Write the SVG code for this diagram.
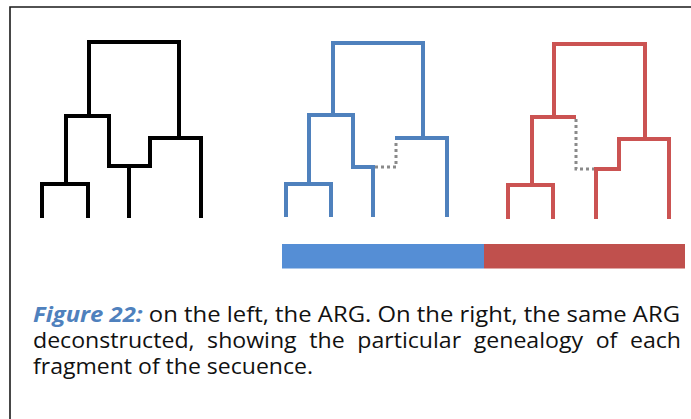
<svg xmlns="http://www.w3.org/2000/svg" width="691" height="419" viewBox="0 0 691 419">
<style>
.t{fill:none;stroke-width:4;stroke-linejoin:miter;stroke-linecap:butt}
.k{stroke:#000}
.b{stroke:#4F81BD}
.r{stroke:#CB5352}
.d{fill:none;stroke:#8A8A8A;stroke-width:3;stroke-dasharray:3 3}
.cap{font-family:"Open Sans","Lato",sans-serif;font-size:21px;fill:#111}
.fig{fill:#4F81BD;font-weight:bold;font-style:italic}
</style>
<rect width="691" height="419" fill="#fff"/>
<path d="M10,419 V7 H691" fill="none" stroke="#1a1a1a" stroke-width="1.6"/>
<g id="connectors">
<g id="arg-black">
<path class="t k" d="M89,116 V42 H179 V138"/>
<path class="t k" d="M66,184 V116 H109 V166 H150 V138 H201 V218"/>
<path class="t k" d="M42,218 V184 H88 V218"/>
<path class="t k" d="M129,166 V218"/>
</g>
<g id="tree-blue">
<path class="t b" d="M333,115 V43 H423 V138"/>
<path class="t b" d="M309,184 V115 H353 V167 H373 V217"/>
<path class="t b" d="M286,217 V184 H331 V217"/>
<path class="t b" d="M395,138 H447 V217"/>
<path class="d" d="M375,167 H396 V140"/>
</g>
<g id="tree-red">
<path class="t r" d="M554,117 V44 H645 V139"/>
<path class="t r" d="M532,185 V117 H576"/>
<path class="t r" d="M508,219 V185 H553 V219"/>
<path class="d" d="M576,119 V169 H596"/>
<path class="t r" d="M596,219 V169 H619 V139 H669 V219"/>
</g>
</g>
<g id="sequence-bar">
<rect x="282" y="244" width="202" height="24.5" fill="#558ED5"/>
<rect x="484" y="244" width="201" height="24.5" fill="#C0504D"/>
</g>
<g id="caption">
<text class="cap" x="33" y="322" textLength="647" lengthAdjust="spacingAndGlyphs"><tspan class="fig">Figure 22:</tspan> on the left, the ARG. On the right, the same ARG</text>
<text class="cap" x="33" y="348" word-spacing="6" textLength="648" lengthAdjust="spacingAndGlyphs">deconstructed, showing the particular genealogy of each</text>
<text class="cap" x="33" y="374" textLength="280" lengthAdjust="spacingAndGlyphs">fragment of the secuence.</text>
</g>
</svg>
